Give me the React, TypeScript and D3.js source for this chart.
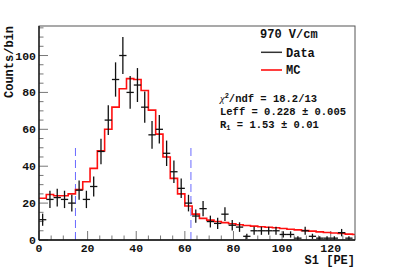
import { useMemo } from "react";
import * as d3 from "d3";

// bin width 3 PE, data points at bin centres
const binWidth = 3;
const dataCounts = [
  11, 22, 23, 22, 20, 27, 22, 29, 48, 65, 87, 100, 80, 84, 72, 57, 60, 47, 37, 28, 20, 13,
  17, 10, 9, 14, 8, 7, 2, 5, 5, 5, 5, 3, 3, 1, 5, 2, 1, 1, 1, 4, 1,
];
const dataErrors = [
  3.3, 4.7, 4.8, 4.7, 4.5, 5.2, 4.7, 5.4, 6.9, 8.1, 9.3, 10, 8.9, 9.2, 8.5, 7.5, 7.7, 6.9, 6.1,
  5.3, 4.5, 3.6, 4.1, 3.2, 3, 3.7, 2.8, 2.6, 1.4, 2.2, 2.2, 2.2, 2.2, 1.7, 1.7, 1, 2.2, 1.4, 1,
  1, 1, 2, 1,
];
const mcCounts = [
  22.6, 24.7, 24, 24, 25, 27.4, 31.6, 38.8, 48.3, 60, 72, 82, 87.5, 87, 81, 70.4, 57.4, 45,
  33.4, 25, 18.4, 14, 11.7, 10.8, 10, 9.4, 8.8, 8.3, 7.9, 7.5, 7.2, 6.9, 6.6, 6.2, 5.8, 5.5,
  5.1, 4.8, 4.4, 4.1, 3.8, 3.5, 3.2, 3.0,
];
const cutLines = [15, 62.5];
const xTicks = [0, 20, 40, 60, 80, 100, 120];
const yTicks = [0, 20, 40, 60, 80, 100];
const statLines = ["Leff = 0.228 \u00b1 0.005"];

const W = 395;
const H = 267;
const margin = { left: 39, right: 40, top: 26, bottom: 27 };
const font = "'Liberation Mono', 'DejaVu Sans Mono', monospace";

export default function App() {
  const x = useMemo(() => d3.scaleLinear().domain([0, 130]).range([margin.left, W - margin.right]), []);
  const y = useMemo(() => d3.scaleLinear().domain([0, 116]).range([H - margin.bottom, margin.top]), []);

  const mcPath = useMemo(() => {
    const pts: [number, number][] = mcCounts.map((v, i) => [i * binWidth, v]);
    pts.push([mcCounts.length * binWidth, mcCounts[mcCounts.length - 1]]);
    return d3
      .line<[number, number]>()
      .x((d) => x(d[0]))
      .y((d) => y(d[1]))
      .curve(d3.curveStepAfter)(pts) ?? "";
  }, [x, y]);

  const [x0, x1] = x.range();
  const [y0, y1] = y.range();
  const xMinor = d3.range(0, 131, 5).filter((v) => v % 20 !== 0);
  const yMinor = d3.range(0, 116, 5).filter((v) => v % 20 !== 0);

  return (
    <svg
      width={W}
      height={H}
      style={{ position: "absolute", left: 0, top: 0, background: "#fff" }}
      fontFamily={font}
      fontWeight="bold"
    >
      <defs>
        <clipPath id="plot">
          <rect x={x0} y={y1} width={x1 - x0} height={y0 - y1} />
        </clipPath>
      </defs>

      {/* ticks */}
      <g stroke="#777" strokeWidth={1}>
        {xTicks.map((t) => (
          <line key={"xM" + t} x1={x(t)} x2={x(t)} y1={y0} y2={y0 - 9} />
        ))}
        {xMinor.map((t) => (
          <line key={"xm" + t} x1={x(t)} x2={x(t)} y1={y0} y2={y0 - 4.5} />
        ))}
        {yTicks.map((t) => (
          <line key={"yM" + t} x1={x0} x2={x0 + 9} y1={y(t)} y2={y(t)} />
        ))}
        {yMinor.map((t) => (
          <line key={"ym" + t} x1={x0} x2={x0 + 4.5} y1={y(t)} y2={y(t)} />
        ))}
      </g>

      {/* cut lines */}
      <g stroke="#6a6aff" strokeWidth={1} strokeDasharray="8,4">
        {cutLines.map((c) => (
          <line key={c} x1={x(c)} x2={x(c)} y1={y0} y2={y(50)} />
        ))}
      </g>

      <g clipPath="url(#plot)">
        <path d={mcPath} fill="none" stroke="#ff1010" strokeWidth={1.6} />
        <g stroke="#111" strokeWidth={1.3}>
          {dataCounts.map((v, i) => {
            const cx = (i + 0.5) * binWidth;
            return (
              <g key={i}>
                <line x1={x(cx - binWidth / 2)} x2={x(cx + binWidth / 2)} y1={y(v)} y2={y(v)} />
                <line x1={x(cx)} x2={x(cx)} y1={y(v - dataErrors[i])} y2={y(v + dataErrors[i])} />
              </g>
            );
          })}
        </g>
      </g>

      {/* frame */}
      <rect x={x0} y={y1} width={x1 - x0} height={y0 - y1} fill="none" stroke="#555" strokeWidth={1} />
      <line x1={x0} x2={x1} y1={y0} y2={y0} stroke="#111" strokeWidth={1.3} />
      <line x1={x0} x2={x0} y1={y0} y2={y1} stroke="#111" strokeWidth={1.3} />

      {/* tick labels */}
      <g fontSize={11.5} fill="#111">
        {xTicks.map((t) => (
          <text key={"xl" + t} x={x(t)} y={251.5} textAnchor="middle">
            {t}
          </text>
        ))}
        {yTicks.map((t) => (
          <text key={"yl" + t} x={x0 - 3} y={y(t)} dy="0.35em" textAnchor="end">
            {t}
          </text>
        ))}
      </g>

      {/* axis titles */}
      <text x={x1} y={263.5} textAnchor="end" fontSize={12} fill="#111">
        S1 [PE]
      </text>
      <text
        transform={`translate(12.5, ${y1}) rotate(-90)`}
        textAnchor="end"
        fontSize={12}
        fill="#111"
      >
        Counts/bin
      </text>

      {/* legend */}
      <g fontSize={12} fill="#111">
        <text x={260} y={38.3}>970 V/cm</text>
        <line x1={261} x2={282} y1={52.3} y2={52.3} stroke="#333" strokeWidth={1.5} />
        <text x={286} y={56.5}>Data</text>
        <line x1={261} x2={282} y1={70} y2={70} stroke="#ff1010" strokeWidth={1.6} />
        <text x={286} y={74}>MC</text>
      </g>

      {/* fit results */}
      <g fontSize={10.5} fill="#111">
        <text x={220} y={101.7}>
          <tspan fontFamily="'Liberation Serif', serif" fontWeight="normal" fontStyle="italic">
            {"\u03c7"}
          </tspan>
          <tspan dy={-4} fontSize={7}>2</tspan>
          <tspan dy={4}>/ndf = 18.2/13</tspan>
        </text>
        <text x={220} y={115}>{statLines[0]}</text>
        <text x={220} y={127.7}>
          R<tspan dy={2} fontSize={7}>1</tspan>
          <tspan dy={-2}> = 1.53 {"\u00b1"} 0.01</tspan>
        </text>
      </g>
    </svg>
  );
}
